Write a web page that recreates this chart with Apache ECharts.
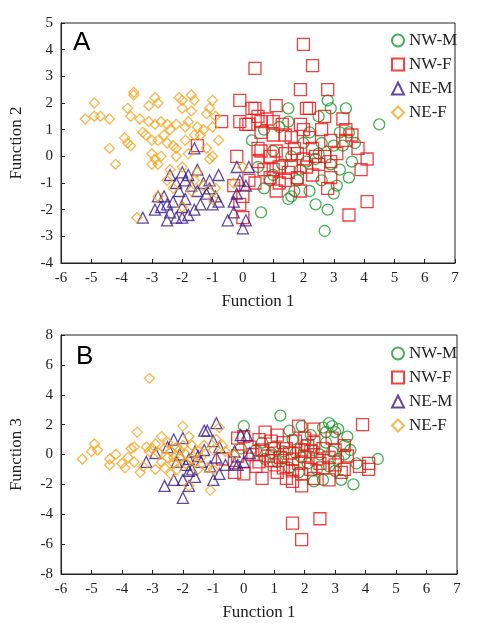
<!DOCTYPE html>
<html><head><meta charset="utf-8">
<script src="https://cdn.jsdelivr.net/npm/echarts@6/dist/echarts.min.js"></script>
<style>html,body{margin:0;padding:0;background:#fff}#c{width:478px;height:642px}</style>
</head><body><div id="c"></div>
<script>
const seriesNames = ['NW-M','NW-F','NE-M','NE-F'];
// Panel A: Function 1 vs Function 2
const A_NWM = [[4.5,1.2],[3.4,1.8],[2.8,2.1],[2.9,1.8],[1.5,1.8],[2.5,1.5],[1.5,1.3],[1.2,1.1],[0.3,0.6],[0.7,1.0],[3.2,0.9],[3.5,0.9],[3.7,0.5],[3.3,0.4],[2.6,0.5],[1.0,0.2],[1.6,0.0],[2.4,-0.1],[3.6,-0.2],[3.5,-0.8],[3.2,-0.5],[3.1,-1.1],[2.9,-0.3],[3.0,-1.4],[2.2,-1.3],[1.5,-1.6],[1.6,-1.5],[0.7,-1.2],[0.6,-2.1],[2.4,-1.8],[2.8,-2.0],[2.7,-2.8],[0.5,-0.4],[1.0,-0.7],[1.8,-0.9],[2.6,-0.9],[2.0,0.5],[2.2,0.9],[1.3,-0.3],[1.9,-0.5],[2.5,0.1],[3.0,0.4],[0.9,-0.9],[1.7,-1.3],[2.1,-0.2]];
const A_NWF = [[2.0,4.2],[2.3,3.4],[0.4,3.3],[1.9,2.5],[2.8,2.5],[-0.1,2.1],[1.1,1.9],[0.3,1.8],[0.4,1.8],[2.1,1.8],[2.2,1.8],[2.7,1.5],[3.3,1.4],[-0.7,1.3],[-0.1,1.3],[0.1,1.2],[0.2,1.2],[0.5,1.5],[0.6,1.3],[0.8,1.4],[1.0,1.3],[1.3,1.2],[1.9,1.2],[2.6,1.0],[3.4,1.0],[3.6,0.8],[3.4,0.6],[2.9,0.6],[0.6,0.9],[1.0,0.8],[1.4,0.8],[1.6,0.7],[2.0,1.0],[2.2,0.7],[-1.5,0.4],[0.5,0.3],[0.6,0.2],[0.9,0.0],[1.1,0.2],[1.4,0.1],[1.8,0.1],[2.0,-0.1],[2.4,0.0],[2.7,0.0],[3.1,0.1],[3.8,0.3],[4.1,-0.1],[3.9,-0.5],[-0.2,0.0],[0.5,-0.2],[1.2,-0.4],[1.6,-0.4],[2.1,-0.4],[2.9,-0.2],[0.2,-0.9],[0.4,-1.0],[0.9,-0.8],[1.2,-1.0],[1.4,-0.9],[1.8,-0.8],[2.3,-0.7],[2.9,-0.8],[-0.3,-1.1],[0.0,-1.5],[1.1,-1.3],[1.9,-1.3],[2.8,-1.2],[3.5,-2.2],[4.1,-1.7],[-0.1,-1.8],[0.0,-2.3],[1.5,-0.6],[2.5,-0.3],[1.7,0.3],[2.3,0.3],[1.0,-0.5],[0.7,-0.5]];
const A_NEM = [[-1.6,0.3],[-0.2,-0.4],[0.2,-0.4],[-1.8,-0.7],[-2.0,-0.6],[-2.4,-0.7],[-1.5,-0.5],[-0.8,-0.7],[-1.1,-0.9],[-1.3,-1.0],[-1.7,-1.1],[-2.1,-1.3],[-2.6,-1.5],[-2.8,-1.5],[-1.9,-1.6],[-2.3,-1.7],[-2.5,-1.8],[-2.0,-1.9],[-1.6,-2.0],[-1.4,-1.8],[-1.0,-1.8],[-0.8,-1.7],[-1.2,-1.4],[-2.9,-2.0],[-3.3,-2.3],[-2.4,-2.1],[-2.2,-2.3],[-2.5,-2.4],[-2.0,-2.3],[-1.8,-2.2],[-0.5,-2.4],[-0.3,-2.1],[0.0,-2.7],[0.1,-2.4],[-0.3,-1.7],[-0.2,-1.4],[0.1,-1.1],[-0.1,-0.9],[-1.5,-1.3],[-2.2,-1.0],[-1.9,-0.9],[-2.7,-1.9],[-1.1,-1.2],[-0.9,-1.5]];
const A_NEF = [[-5.2,1.4],[-4.9,2.0],[-4.9,1.5],[-4.7,1.5],[-4.4,1.4],[-4.4,0.3],[-4.2,-0.3],[-3.9,0.7],[-3.8,0.5],[-3.7,0.4],[-3.6,2.3],[-3.6,2.4],[-3.8,1.8],[-3.7,1.5],[-3.4,1.4],[-3.3,0.9],[-3.2,0.8],[-3.0,0.6],[-3.1,1.9],[-2.9,2.2],[-2.8,2.0],[-3.1,1.3],[-2.9,1.2],[-2.7,1.3],[-2.5,1.2],[-2.4,1.0],[-2.6,0.8],[-2.8,0.6],[-3.0,0.1],[-2.9,-0.1],[-2.8,-0.3],[-3.0,-0.3],[-2.5,0.5],[-2.3,0.4],[-2.2,0.3],[-2.1,2.2],[-2.0,2.1],[-2.0,1.8],[-1.7,2.3],[-1.6,2.1],[-1.7,1.7],[-1.8,1.3],[-1.5,1.1],[-1.9,1.1],[-2.2,1.2],[-1.6,0.8],[-1.4,0.8],[-1.3,1.0],[-1.2,1.6],[-1.0,2.1],[-1.1,1.8],[-0.9,1.5],[-1.0,1.1],[-1.2,0.3],[-1.0,0.0],[-0.8,0.6],[-1.1,-0.1],[-1.8,0.1],[-2.4,-0.5],[-2.0,-0.4],[-1.5,-0.6],[-1.6,-0.9],[-2.5,-0.9],[-2.3,-1.2],[-1.7,-1.3],[-1.3,-1.1],[-0.9,-1.2],[-1.0,-1.6],[-2.8,-1.5],[-2.0,-1.9],[-3.5,-2.3],[0.0,-0.4],[-0.3,-1.0],[-2.2,0.0],[-2.7,0.0],[-1.9,0.6]];
// Panel B: Function 1 vs Function 3
const B_NWM = [[4.4,-0.3],[3.6,-2.0],[3.2,-1.7],[3.4,1.2],[2.8,2.1],[2.9,1.9],[3.1,1.7],[3.0,1.5],[2.6,1.8],[2.7,1.5],[1.2,2.6],[1.5,1.6],[1.9,1.9],[0.0,1.9],[-0.1,0.4],[0.4,0.3],[0.6,0.8],[1.0,0.5],[1.3,0.2],[1.7,0.1],[2.0,0.6],[2.3,0.3],[2.5,0.0],[2.9,0.2],[3.3,0.0],[3.5,0.3],[3.7,-0.6],[2.6,-1.7],[2.3,-1.8],[1.8,-1.2],[1.5,-0.9],[1.1,-0.5],[0.7,-0.3],[2.1,-0.6],[2.8,-0.8],[3.1,-0.3],[1.6,1.0],[2.2,1.3],[3.3,0.6],[2.4,-1.0],[1.9,-0.2],[1.3,-0.2],[0.9,0.1],[2.7,0.8],[3.0,-1.1]];
const B_NWF = [[3.9,2.0],[2.3,1.7],[1.8,1.9],[0.7,1.5],[1.1,1.3],[0.0,1.2],[-0.2,1.1],[0.5,1.0],[0.9,0.9],[1.3,0.8],[1.7,0.9],[2.0,1.1],[2.3,0.8],[2.9,1.1],[3.3,0.6],[0.2,0.5],[0.6,0.3],[1.0,0.4],[1.4,0.4],[1.9,0.3],[2.2,0.2],[2.6,0.4],[3.0,0.3],[-0.7,-0.3],[-0.2,-0.1],[0.3,0.0],[0.8,-0.1],[1.2,-0.2],[1.6,-0.3],[2.0,-0.1],[2.4,-0.3],[2.8,-0.2],[3.4,-0.1],[3.8,-0.8],[4.1,-0.6],[4.1,-1.0],[-0.3,-1.2],[0.0,-1.3],[0.4,-0.8],[0.5,-0.5],[1.0,-0.7],[1.3,-0.9],[1.6,-1.1],[1.9,-1.3],[2.2,-1.0],[2.6,-0.9],[3.0,-0.7],[3.3,-1.0],[0.6,-1.6],[1.4,-1.6],[1.6,-1.8],[1.9,-2.1],[2.3,-1.6],[2.8,-1.7],[3.2,-1.2],[1.6,-4.6],[2.5,-4.3],[1.9,-5.7],[1.1,-1.2],[1.8,-0.6],[2.1,0.6],[0.9,-0.4],[2.5,-0.6],[1.5,0.1]];
const B_NEM = [[-0.9,2.1],[-1.3,1.6],[-1.2,1.6],[-2.0,1.1],[-2.3,1.0],[-0.1,1.3],[0.1,1.3],[-1.0,0.9],[-0.8,0.5],[-1.3,0.3],[-1.6,0.2],[-2.5,0.5],[-2.1,0.0],[-1.8,-0.3],[-1.9,-0.7],[-1.7,-1.0],[-1.8,-1.1],[-2.0,-1.7],[-2.3,-1.7],[-2.6,-2.1],[-1.6,-1.5],[-1.8,-2.1],[-2.0,-2.9],[-1.0,-1.7],[-0.8,-1.3],[-0.6,-0.7],[-0.3,-0.6],[-0.2,-0.7],[0.0,-0.5],[0.2,0.1],[-0.3,0.2],[-3.2,-0.5],[-2.9,0.1],[-1.4,-0.5],[-1.1,-0.8],[-2.2,-0.5],[-1.5,-0.1],[-0.9,-0.2]];
const B_NEF = [[-3.1,5.1],[-5.3,-0.3],[-5.0,0.2],[-4.9,0.7],[-4.8,0.3],[-4.4,-0.3],[-4.4,-0.7],[-4.2,0.0],[-4.0,-0.6],[-3.9,-0.9],[-3.8,-0.2],[-3.7,0.4],[-3.6,0.5],[-3.5,1.5],[-3.6,-0.5],[-3.4,-1.2],[-3.3,-0.8],[-3.2,0.5],[-3.0,0.4],[-2.9,0.7],[-2.8,0.1],[-2.7,1.2],[-2.6,0.4],[-2.7,-0.5],[-2.9,-1.0],[-2.5,-0.2],[-2.4,0.2],[-2.3,-0.6],[-2.2,0.5],[-2.1,-0.2],[-2.0,1.9],[-2.0,0.6],[-1.9,0.0],[-1.8,1.2],[-1.7,0.6],[-1.6,-0.5],[-1.5,0.2],[-1.4,-0.2],[-1.3,0.6],[-1.2,-0.9],[-1.1,-2.4],[-1.0,-1.0],[-0.9,1.0],[-0.8,1.8],[-0.7,0.6],[-0.6,0.2],[-1.8,-2.1],[-2.4,-1.3],[-2.2,-1.0],[-1.9,-0.6],[-2.6,-0.9],[-1.5,-1.0],[-0.3,0.0],[-1.0,0.3],[-2.1,0.3],[-2.3,-0.2],[-1.7,-0.3],[-2.5,0.8],[-3.1,0.2]];

const styles = [
  {symbol:'circle', size:11, color:'#1a9a2a'},
  {symbol:'rect', size:12, color:'#ee1111'},
  {symbol:'triangle', size:11, color:'#3a1a8a'},
  {symbol:'diamond', size:10, color:'#f5a623'}
];
const serif = 'Liberation Serif';
function mkSeries(datas, idx){
  return datas.map((d,i)=>({
    type:'scatter', name:seriesNames[i], xAxisIndex:idx, yAxisIndex:idx, data:d,
    symbol:styles[i].symbol, symbolSize:styles[i].size,
    itemStyle:{color:'rgba(255,255,255,0)', borderColor:styles[i].color, borderWidth:1.3},
    emphasis:{disabled:true}
  }));
}
function xAx(idx){
  return {type:'value', gridIndex:idx, min:-6, max:7, interval:1, name:'Function 1', nameLocation:'middle', nameGap:30,
    nameTextStyle:{fontFamily:serif, fontSize:17, color:'#222'},
    axisLine:{onZero:false, lineStyle:{color:'#222'}}, axisTick:{inside:true, length:4, lineStyle:{color:'#222'}},
    axisLabel:{fontFamily:serif, fontSize:15, color:'#222', margin:8}, splitLine:{show:false}};
}
function yAx(idx,min,max,interval,name){
  return {type:'value', gridIndex:idx, min:min, max:max, interval:interval, name:name, nameLocation:'middle', nameGap:36,
    nameTextStyle:{fontFamily:serif, fontSize:17, color:'#222'},
    axisLine:{onZero:false, lineStyle:{color:'#222'}}, axisTick:{inside:true, length:4, lineStyle:{color:'#222'}},
    axisLabel:{fontFamily:serif, fontSize:15, color:'#222', margin:8}, splitLine:{show:false}};
}
function legend(top){
  return {orient:'vertical', left:386, top:top, itemGap:7, itemWidth:12, itemHeight:12,
    textStyle:{fontFamily:serif, fontSize:17, color:'#222'}, data:seriesNames};
}
const chart = echarts.init(document.getElementById('c'), null, {renderer:'canvas'});
chart.setOption({
  animation:false,
  grid:[
    {left:56, top:23, width:399, height:240, show:true, borderColor:'#222', borderWidth:1},
    {left:59, top:335, width:398, height:239, show:true, borderColor:'#222', borderWidth:1}
  ],
  xAxis:[xAx(0), xAx(1)],
  yAxis:[yAx(0,-4,5,1,'Function 2'), yAx(1,-8,8,2,'Function 3')],
  legend:[ legend(27), legend(340) ],
  graphic:[
    {type:'text', left:73, top:30, style:{text:'A', fontFamily:'Liberation Sans', fontSize:26, fill:'#000'}},
    {type:'text', left:76, top:344, style:{text:'B', fontFamily:'Liberation Sans', fontSize:26, fill:'#000'}}
  ],
  series:[...mkSeries([A_NWM,A_NWF,A_NEM,A_NEF],0), ...mkSeries([B_NWM,B_NWF,B_NEM,B_NEF],1)]
});
</script></body></html>
